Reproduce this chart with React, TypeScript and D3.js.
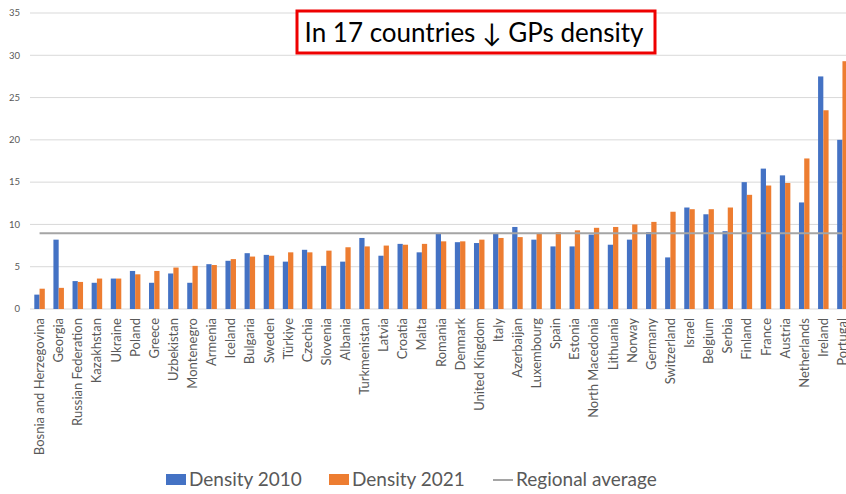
import React from "react";
import * as d3 from "d3";

const countries = [
  "Bosnia and Herzegovina", "Georgia", "Russian Federation", "Kazakhstan", "Ukraine",
  "Poland", "Greece", "Uzbekistan", "Montenegro", "Armenia", "Iceland", "Bulgaria",
  "Sweden", "Türkiye", "Czechia", "Slovenia", "Albania", "Turkmenistan", "Latvia",
  "Croatia", "Malta", "Romania", "Denmark", "United Kingdom", "Italy", "Azerbaijan",
  "Luxembourg", "Spain", "Estonia", "North Macedonia", "Lithuania", "Norway",
  "Germany", "Switzerland", "Israel", "Belgium", "Serbia", "Finland", "France",
  "Austria", "Netherlands", "Ireland", "Portugal",
];

const density2010 = [
  1.7, 8.2, 3.3, 3.1, 3.6, 4.5, 3.1, 4.2, 3.1, 5.3, 5.7, 6.6, 6.4, 5.6, 7.0, 5.1,
  5.6, 8.4, 6.3, 7.7, 6.7, 8.9, 7.9, 7.8, 8.9, 9.7, 8.2, 7.4, 7.4, 8.8, 7.6, 8.2,
  9.1, 6.1, 12.0, 11.2, 9.2, 15.0, 16.6, 15.8, 12.6, 27.5, 20.0,
];

const density2021 = [
  2.4, 2.5, 3.2, 3.6, 3.6, 4.1, 4.5, 4.9, 5.1, 5.2, 5.9, 6.2, 6.3, 6.7, 6.7, 6.9,
  7.3, 7.4, 7.5, 7.6, 7.7, 8.0, 8.0, 8.2, 8.4, 8.5, 8.9, 9.1, 9.3, 9.6, 9.7, 10.0,
  10.3, 11.5, 11.8, 11.8, 12.0, 13.5, 14.6, 14.9, 17.8, 23.5, 29.3,
];

const regionalAverage = 8.95;
const yTicks = [0, 5, 10, 15, 20, 25, 30, 35];
const seriesNames = ["Density 2010", "Density 2021"];
const legendLabels = ["Density 2010", "Density 2021", "Regional average"];
const titleText = "In 17 countries \u2193 GPs density";

const W = 846;
const H = 494;
const BLUE = "#4472C4";
const ORANGE = "#ED7D31";
const GRAY = "#A5A5A5";
const FONT = "Lato, 'Open Sans', sans-serif";

export default function App() {
  const x0 = d3
    .scaleBand<string>()
    .domain(countries)
    .range([30, 852])
    .paddingInner(0.45)
    .paddingOuter(0.225);
  const x1 = d3.scaleBand<string>().domain(seriesNames).range([0, x0.bandwidth()]);
  const y = d3.scaleLinear().domain([0, 35]).range([309, 13]);
  const values = [density2010, density2021];
  const colors = [BLUE, ORANGE];

  const first = x0(countries[0])! + x0.bandwidth() / 2;
  const last = x0(countries[countries.length - 1])! + x0.bandwidth() / 2;

  return (
    <svg
      width={W}
      height={H}
      style={{ position: "absolute", left: 0, top: 0, background: "#fff" }}
      fontFamily={FONT}
    >
      <rect width={W} height={H} fill="#fff" />
      {yTicks.map((t) => (
        <g key={t}>
          <line x1={30} x2={W} y1={y(t)} y2={y(t)} stroke="#D9D9D9" strokeWidth={1} />
          <text x={20} y={y(t)} dy="0.35em" textAnchor="end" fontSize={9.5} fill="#595959">
            {t}
          </text>
        </g>
      ))}
      {countries.map((c, i) => (
        <g key={c}>
          {values.map((vals, s) => (
            <rect
              key={s}
              x={x0(c)! + x1(seriesNames[s])!}
              y={y(vals[i])}
              width={x1.bandwidth()}
              height={y(0) - y(vals[i])}
              fill={colors[s]}
            />
          ))}
          <text
            transform={`translate(${x0(c)! + x0.bandwidth() / 2},318) rotate(-90)`}
            textAnchor="end"
            dy="0.35em"
            fontSize={13}
            fill="#595959"
          >
            {c}
          </text>
        </g>
      ))}
      <line
        x1={first}
        x2={last}
        y1={y(regionalAverage)}
        y2={y(regionalAverage)}
        stroke={GRAY}
        strokeWidth={2}
      />
      <rect x={297} y={11} width={358} height={42} fill="#fff" stroke="#EE0000" strokeWidth={3} />
      <text x={474} y={42} textAnchor="middle" fontSize={26} fill="#000">
        {titleText}
      </text>
      <g fontSize={19} fill="#595959">
        <rect x={166} y={474} width={20} height={11} fill={BLUE} />
        <text x={189} y={486}>{legendLabels[0]}</text>
        <rect x={329} y={474} width={20} height={11} fill={ORANGE} />
        <text x={352} y={486}>{legendLabels[1]}</text>
        <line x1={493} x2={513} y1={480} y2={480} stroke={GRAY} strokeWidth={2} />
        <text x={516} y={486}>{legendLabels[2]}</text>
      </g>
    </svg>
  );
}
